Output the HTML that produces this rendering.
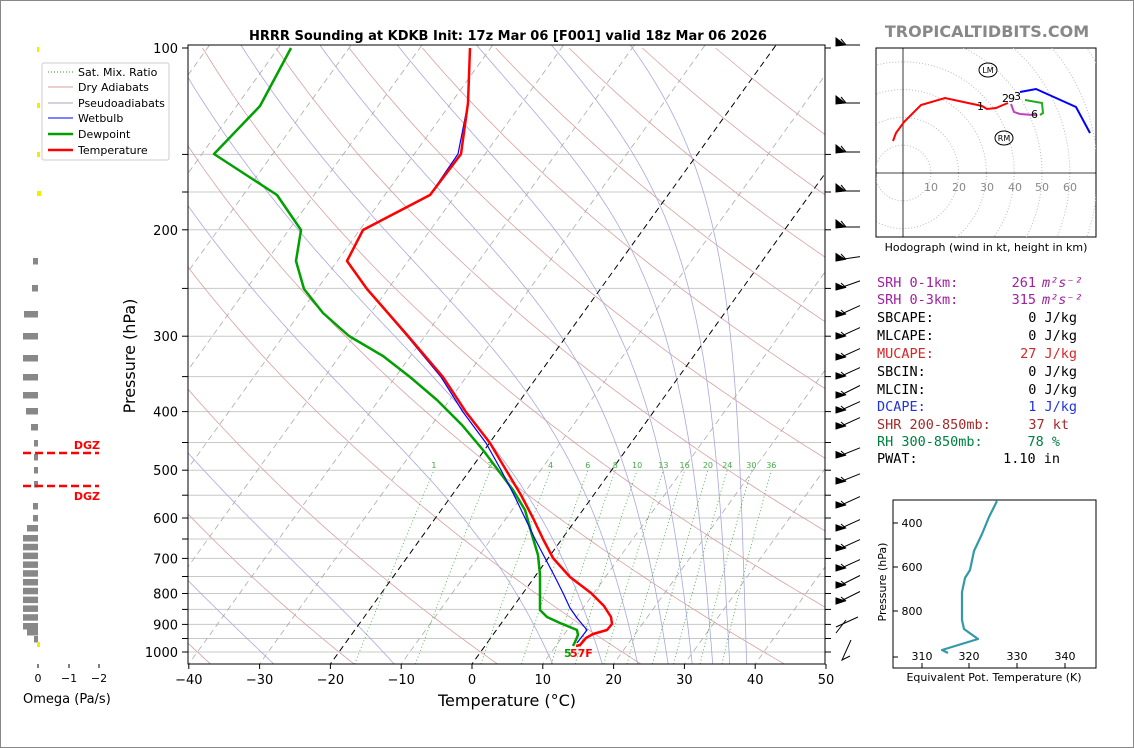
<!DOCTYPE html>
<html><head><meta charset="utf-8"><style>
html,body{margin:0;padding:0;background:#fff;}
svg{display:block;font-family:"DejaVu Sans","Liberation Sans",sans-serif;}
.mono{font-family:"DejaVu Sans Mono","Liberation Mono",monospace;font-size:13.5px;}
</style></head><body>
<svg id="s" width="1134" height="748" viewBox="0 0 1134 748" xmlns="http://www.w3.org/2000/svg">
<rect x="0.5" y="0.5" width="1133" height="747" fill="#fff" stroke="#888"/>
<defs><clipPath id="cp"><rect x="188" y="45" width="637" height="619"/></clipPath></defs>
<g id="bg" clip-path="url(#cp)"></g>
<text x="508" y="40" font-size="13" font-weight="bold" text-anchor="middle">HRRR Sounding at KDKB Init: 17z Mar 06 [F001] valid 18z Mar 06 2026</text>
<text x="987" y="37" font-size="16" font-weight="bold" fill="#888" text-anchor="middle">TROPICALTIDBITS.COM</text>
<g clip-path="url(#cp)" fill="none" stroke-linejoin="round">
<polyline stroke="#00a000" stroke-width="2.5" points="291,48 260,106 214,154 277,195 301,230 296,261 304,289 323,313 349,336 383,356 410,377 437,400 462,425 483,450 498,470 513,490 525,510 532,535 538,555 540,575 540,595 540,610 547,617 560,623 577,630 578,635 575,642 573,646"/>
<polyline stroke="#0000ff" stroke-width="1.2" points="470,48 468,103 458,154 430,195 363,230 347,261 367,289 407,336 441,377 463,412 486,443 501,470 514,495 525,518 535,539 545,558 555,577 563,593 570,608 577,618 587,630 577,643"/>
<polyline stroke="#ff0000" stroke-width="2.5" points="470,48 468,103 461,154 430,195 363,230 347,261 367,289 408,336 443,377 466,412 490,443 506,470 521,495 533,518 543,539 553,558 570,577 591,593 604,606 611,617 612,624 607,630 593,634 586,638 580,645 576,646"/>
</g>
<text x="564" y="657" font-size="11" font-weight="bold" fill="#00a000">5</text>
<text x="570" y="657" font-size="11" font-weight="bold" fill="#ff0000">57F</text>
<rect x="188" y="45" width="637" height="619" fill="none" stroke="#000" stroke-width="1"/>
<g id="ax" font-size="13" fill="#000"></g>
<text x="507" y="706" font-size="16" text-anchor="middle">Temperature (°C)</text>
<text transform="translate(135,356) rotate(-90)" font-size="16" text-anchor="middle">Pressure (hPa)</text>
<g font-size="11">
<rect x="42" y="63" width="127" height="97" fill="#fff" stroke="#ccc" rx="2"/>
<line x1="48" x2="73" y1="72" y2="72" stroke="#2a2" stroke-dasharray="1,2"/><text x="78" y="76">Sat. Mix. Ratio</text>
<line x1="48" x2="73" y1="87" y2="87" stroke="#d9a0a0"/><text x="78" y="91">Dry Adiabats</text>
<line x1="48" x2="73" y1="103" y2="103" stroke="#aab"/><text x="78" y="107">Pseudoadiabats</text>
<line x1="48" x2="73" y1="118" y2="118" stroke="#00f"/><text x="78" y="122">Wetbulb</text>
<line x1="48" x2="73" y1="134" y2="134" stroke="#00a000" stroke-width="2.5"/><text x="78" y="138">Dewpoint</text>
<line x1="48" x2="73" y1="150" y2="150" stroke="#f00" stroke-width="2.5"/><text x="78" y="154">Temperature</text>
</g>
<g id="om"></g>
<line x1="23" x2="99" y1="453" y2="453" stroke="#f00" stroke-width="2.5" stroke-dasharray="8,4"/>
<line x1="23" x2="99" y1="486" y2="486" stroke="#f00" stroke-width="2.5" stroke-dasharray="8,4"/>
<text x="100" y="449" font-size="11" font-weight="bold" fill="#f00" text-anchor="end">DGZ</text>
<text x="100" y="500" font-size="11" font-weight="bold" fill="#f00" text-anchor="end">DGZ</text>
<g font-size="11" text-anchor="middle">
<line x1="38" x2="38" y1="664" y2="668" stroke="#000"/><line x1="69" x2="69" y1="664" y2="668" stroke="#000"/><line x1="99" x2="99" y1="664" y2="668" stroke="#000"/>
<text x="38" y="682">0</text><text x="69" y="682">−1</text><text x="99" y="682">−2</text>
</g>
<text x="23" y="703" font-size="13">Omega (Pa/s)</text>
<g id="barbs" stroke="#000" stroke-width="1" fill="#000"></g>
<g>
<rect x="876" y="48" width="220" height="189" fill="#fff" stroke="#000"/>
<clipPath id="hc"><rect x="876" y="48" width="220" height="189"/></clipPath>
<g id="hodo" clip-path="url(#hc)"></g>
<line x1="903" x2="903" y1="48" y2="237" stroke="#000" stroke-width="0.8"/>
<line x1="876" x2="1096" y1="173" y2="173" stroke="#000" stroke-width="0.8"/>
<g font-size="11" fill="#888" text-anchor="middle">
<text x="931" y="191">10</text><text x="959" y="191">20</text><text x="987" y="191">30</text><text x="1015" y="191">40</text><text x="1042" y="191">50</text><text x="1070" y="191">60</text>
</g>
<g fill="none" stroke-width="2">
<polyline stroke="#f00" points="893,141 896,133 904,122 921,105 945,98 982,106 987,109 996,108 1003,105 1008,103"/>
<polyline stroke="#c040c0" points="1011,104 1014,112 1020,114 1033,115 1037,115"/>
<polyline stroke="#2a2" points="1025,100 1042,103 1043,113 1040,115"/>
<polyline stroke="#00f" points="1020,92 1036,89 1076,107 1090,133"/>
</g>
<g font-size="11">
<text x="977" y="110">1</text><text x="1002" y="102">2</text><text x="1008" y="102">9</text><text x="1014" y="100">3</text><text x="1031" y="118">6</text>
</g>
<ellipse cx="988" cy="70" rx="9" ry="7" fill="none" stroke="#000"/><text x="988" y="73" font-size="8" text-anchor="middle">LM</text>
<ellipse cx="1004" cy="138" rx="9" ry="7" fill="none" stroke="#000"/><text x="1004" y="141" font-size="8" text-anchor="middle">RM</text>
<text x="986" y="251" font-size="11" text-anchor="middle">Hodograph (wind in kt, height in km)</text>
</g>
<g class="mono">
<text x="877" y="287" fill="#a020a0">SRH 0-1km:</text><text x="1036" y="287" fill="#a020a0" text-anchor="end">261</text><text x="1042" y="287" fill="#a020a0" font-style="italic">m²s⁻²</text>
<text x="877" y="304" fill="#a020a0">SRH 0-3km:</text><text x="1036" y="304" fill="#a020a0" text-anchor="end">315</text><text x="1042" y="304" fill="#a020a0" font-style="italic">m²s⁻²</text>
<text x="877" y="322">SBCAPE:</text><text x="1077" y="322" text-anchor="end">0 J/kg</text>
<text x="877" y="340">MLCAPE:</text><text x="1077" y="340" text-anchor="end">0 J/kg</text>
<text x="877" y="358" fill="#d62728">MUCAPE:</text><text x="1077" y="358" text-anchor="end" fill="#d62728">27 J/kg</text>
<text x="877" y="376">SBCIN:</text><text x="1077" y="376" text-anchor="end">0 J/kg</text>
<text x="877" y="394">MLCIN:</text><text x="1077" y="394" text-anchor="end">0 J/kg</text>
<text x="877" y="411" fill="#2233dd">DCAPE:</text><text x="1077" y="411" text-anchor="end" fill="#2233dd">1 J/kg</text>
<text x="877" y="429" fill="#a52a2a">SHR 200-850mb:</text><text x="1069" y="429" text-anchor="end" fill="#a52a2a">37 kt</text>
<text x="877" y="446" fill="#008040">RH 300-850mb:</text><text x="1060" y="446" text-anchor="end" fill="#008040">78 %</text>
<text x="877" y="463">PWAT:</text><text x="1060" y="463" text-anchor="end">1.10 in</text>
</g>
<rect x="893" y="500" width="203" height="168" fill="#fff" stroke="#000"/>
<g font-size="11" stroke="none">
<g stroke="#000"><line x1="893" x2="898" y1="523" y2="523"/><line x1="893" x2="898" y1="567" y2="567"/><line x1="893" x2="898" y1="611" y2="611"/><line x1="893" x2="898" y1="657" y2="657"/>
<line x1="922" x2="922" y1="668" y2="663"/><line x1="969" x2="969" y1="668" y2="663"/><line x1="1017" x2="1017" y1="668" y2="663"/><line x1="1065" x2="1065" y1="668" y2="663"/></g>
<g text-anchor="middle"><text x="912" y="527">400</text><text x="912" y="571">600</text><text x="912" y="615">800</text>
<text x="922" y="660">310</text><text x="969" y="660">320</text><text x="1017" y="660">330</text><text x="1065" y="660">340</text></g>
<text transform="translate(886,582) rotate(-90)" text-anchor="middle">Pressure (hPa)</text>
<text x="994" y="681" text-anchor="middle">Equivalent Pot. Temperature (K)</text>
</g>
<polyline fill="none" stroke="#3399aa" stroke-width="2.2" stroke-linejoin="round" points="997,501 989,517 982,534 974,551 970,570 965,578 962,592 962,620 964,629 978,639 942,650 948,653"/>
<script>
(function(){
var NS="http://www.w3.org/2000/svg";
function Y(p){return 48+604*Math.log10(p/100);}
function X(T,p){return 472+7.08*T+0.72*(664-Y(p));}
var bg=document.getElementById('bg');
function pl(pts,st,w,da,par){var e=document.createElementNS(NS,'polyline');e.setAttribute('points',pts.map(function(a){return a[0].toFixed(1)+','+a[1].toFixed(1)}).join(' '));e.setAttribute('fill','none');e.setAttribute('stroke',st);e.setAttribute('stroke-width',w);if(da)e.setAttribute('stroke-dasharray',da);(par||bg).appendChild(e);}
var plev=[150,192,200,250,300,350,400,450,500,550,600,650,700,750,800,850,900,950,1000];
plev.forEach(function(p){var y=p==192?192:Y(p);pl([[188,y],[825,y]],'#c8c8c8',1);});
for(var th=-100;th<220;th+=20){var pts=[];for(var p=1060;p>=95;p-=10){var T=(th+273.15)*Math.pow(p/1000,0.286)-273.15;pts.push([X(T,p),Y(p)]);}pl(pts,'#d9a0a0',0.8);}
var PB=Math.pow(10,2+616/604);
var tb=[-28,-11,11.4,18.4,23.4,27.7,31.1,34,36.4,38.8];
function es(T){return 6.112*Math.exp(17.67*T/(T+243.5));}
function dT(T,p){var Tk=T+273.15,e=es(T),rs=0.622*e/(p-e);return (287*Tk+2.5e6*rs)/(p*(1005+2.5e6*2.5e6*rs*0.622/(287*Tk*Tk)));}
tb.forEach(function(T0){var T=T0,p=PB,pts=[[X(T,p),Y(p)]];while(p>100){T-=dT(T,p)*2;p-=2;pts.push([X(T,p),Y(p)]);}pl(pts,'#a8a8e0',0.8);});
for(var T=-100;T<=50;T+=10){var bl=(T==0||T==-20);pl([[X(T,1060),Y(1060)],[X(T,95),Y(95)]],bl?'#000':'#aaa',bl?1:0.8,'6,4');}
var ws=[1,2,4,6,8,10,13,16,20,24,30,36];
ws.forEach(function(w){var pts=[];function td(p){var e=w/1000*p/(0.622+w/1000);var l=Math.log(e/6.112);return 243.5*l/(17.67-l);}for(var p=1060;p>=500;p-=20)pts.push([X(td(p),p),Y(p)]);pl(pts,'#3a3',0.8,'1,2.5');
var t=document.createElementNS(NS,'text');t.setAttribute('x',X(td(500),500));t.setAttribute('y',468);t.setAttribute('font-size','8');t.setAttribute('fill','#4a4');t.setAttribute('text-anchor','middle');t.textContent=w;bg.appendChild(t);});
var ax=document.getElementById('ax');
[100,200,300,400,500,600,700,800,900,1000].forEach(function(p){var t=document.createElementNS(NS,'text');t.setAttribute('x',178);t.setAttribute('y',Y(p)+5);t.setAttribute('text-anchor','end');t.textContent=p;ax.appendChild(t);});
[100,150,192,200,250,300,350,400,450,500,550,600,650,700,750,800,850,900,950,1000].forEach(function(p){var y=p==192?192:Y(p);pl([[182,y],[188,y]],'#000',1,null,ax);pl([[825,y],[831,y]],'#000',1,null,ax);});
for(var T=-40;T<=50;T+=10){var x=472+7.08*T;pl([[x,664],[x,669]],'#000',1,null,ax);var t=document.createElementNS(NS,'text');t.setAttribute('x',x);t.setAttribute('y',684);t.setAttribute('text-anchor','middle');t.textContent=(T<0?'−'+(-T):T);ax.appendChild(t);}
var om=document.getElementById('om');
var bars=[[261,33],[288,32],[314,24],[336,23],[358,23],[377,23],[395,23],[411,26],[427,31],[443,34],[457,34],[470,34],[484,34],[506,33],[518,33],[528,27]];
for(var y=538;y<=626;y+=8.8)bars.push([y,23]);bars.push([632,27],[639,34]);
bars.forEach(function(b){var r=document.createElementNS(NS,'rect');r.setAttribute('x',b[1]);r.setAttribute('y',b[0]-3);r.setAttribute('width',38-b[1]);r.setAttribute('height',6.5);r.setAttribute('fill','#888');om.appendChild(r);});
[[50,1],[106,2],[155,2],[194,3],[645,2]].forEach(function(b){var r=document.createElementNS(NS,'rect');r.setAttribute('x',37);r.setAttribute('y',b[0]-3);r.setAttribute('width',b[1]+1);r.setAttribute('height',5);r.setAttribute('fill','#ee0');om.appendChild(r);});
var bb=document.getElementById('barbs');
var by=[[45,0],[103,0],[152,0],[191,0],[227,0],[260,0.15],[289,0.35],[316,0.45],[338,0.45],[359,0.45],[378,0.45],[397,0.5],[412,0.45],[428,0.45],[457,0.4],[483,0.4],[507,0.45],[530,0.45],[550,0.45],[570,0.45],[587,0.5],[603,0.5]];
by.forEach(function(b){var y=b[0],s=b[1];var x0=837,x1=860,y1=y-s*(x1-x0);pl([[x0,y],[x1,y1]],'#000',1,null,bb);
var p=document.createElementNS(NS,'polygon');
p.setAttribute('points',(x0-1)+','+(y-7+s*4)+' '+(x0-1)+','+(y+1)+' '+(x0+8)+','+(y-s*4));bb.appendChild(p);
pl([[x0+9,y-s*9/2.3],[x0+4,y-6]],'#000',1,null,bb);});
pl([[836,627],[858,617]],'#000',1,null,bb);pl([[836,633],[846,620]],'#000',1,null,bb);pl([[851,640],[842,660],[850,656]],'#000',1,null,bb);
var h=document.getElementById('hodo');
for(var r=1;r<=8;r++){var c=document.createElementNS(NS,'circle');c.setAttribute('cx',903);c.setAttribute('cy',173);c.setAttribute('r',r*27.8);c.setAttribute('fill','none');c.setAttribute('stroke','#bbb');c.setAttribute('stroke-dasharray','1,2');h.appendChild(c);}
})();
</script>
</svg>
</body></html>
